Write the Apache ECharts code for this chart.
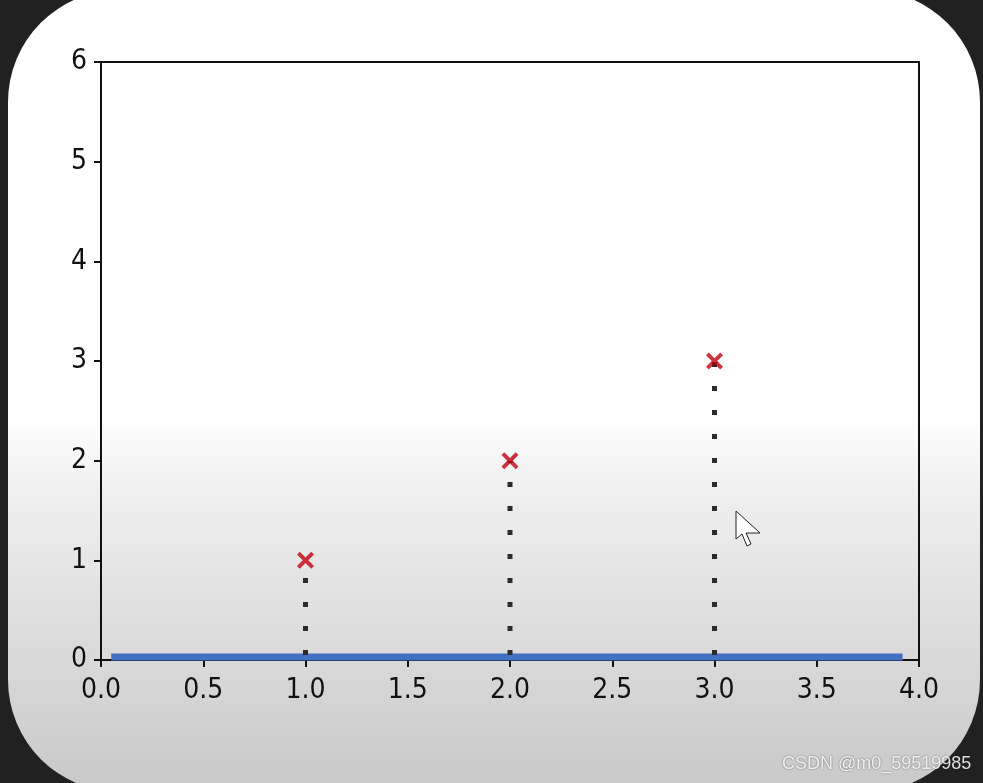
<!DOCTYPE html>
<html><head><meta charset="utf-8">
<script src="https://cdn.jsdelivr.net/npm/echarts@6/dist/echarts.min.js"></script>
<style>html,body{margin:0;padding:0;background:#212121;}#c{width:983px;height:783px;}</style>
</head><body><div id="c"></div>
<script>
var xTicks = ['0.0','0.5','1.0','1.5','2.0','2.5','3.0','3.5','4.0'];
var yTicks = ['0','1','2','3','4','5','6'];
var pointsX = [1, 2, 3];
var pointsY = [1, 2, 3];
var hypX = [0.05, 3.92];
var hypY = [0.03, 0.03];

var FONT = "'Liberation Sans Narrow','DejaVu Sans Condensed','Noto Sans',sans-serif";
var chart = echarts.init(document.getElementById('c'));

var series = [];
series.push({
  type: 'line', data: hypX.map(function(x, i){ return [x, hypY[i]]; }),
  symbol: 'none', lineStyle: {color: '#4270c2', width: 7, cap: 'butt'}, z: 3, silent: true
});
pointsX.forEach(function(x, i){
  series.push({
    type: 'line', data: [[x, 0], [x, pointsY[i]]], symbol: 'none', z: 4, silent: true,
    lineStyle: {color: '#2b2b2b', width: 5, type: [5, 19], dashOffset: 19, cap: 'butt'}
  });
});
series.push({
  type: 'scatter', data: pointsX.map(function(x, i){ return [x, pointsY[i]]; }),
  symbol: 'path://M0,2.6 L2.6,0 L8,5.4 L13.4,0 L16,2.6 L10.6,8 L16,13.4 L13.4,16 L8,10.6 L2.6,16 L0,13.4 L5.4,8 Z',
  symbolSize: 17, itemStyle: {color: '#c2000f'}, z: 6, silent: true
});

chart.setOption({
  backgroundColor: '#212121',
  animation: false,
  graphic: [
    {type: 'rect', z: -10, shape: {x: 8, y: -10, width: 972, height: 802, r: 112},
     style: {fill: {type: 'linear', x: 0, y: 0, x2: 0, y2: 1, colorStops: [
       {offset: 0, color: '#ffffff'}, {offset: 0.53, color: '#ffffff'},
       {offset: 0.62, color: '#f0f0f0'}, {offset: 0.835, color: '#d9d9d9'}, {offset: 1, color: '#c8c8c8'}]}}},
    {type: 'polygon', z: 50, shape: {points: [[736,511],[736,539],[742,534],[747,546],[751,544],[746,533],[760,533]]},
     style: {fill: '#ffffff', stroke: '#222', lineWidth: 1}},
    {type: 'text', z: 50, left: 782, top: 755,
     style: {text: 'CSDN @m0_59519985', font: "18px 'Liberation Sans',Arial,sans-serif", fill: 'rgba(255,255,255,0.85)',
       textShadowColor: 'rgba(0,0,0,0.6)', textShadowBlur: 2}}
  ],
  grid: {left: 101, right: 64, top: 62, bottom: 123, show: true, borderColor: '#111', borderWidth: 2, backgroundColor: 'transparent'},
  xAxis: {
    type: 'value', min: 0, max: 4, interval: 0.5,
    axisLine: {show: true, onZero: false, lineStyle: {color: '#111', width: 2}},
    axisTick: {show: true, length: 7, lineStyle: {color: '#111', width: 2}},
    axisLabel: {margin: 17, color: '#111', fontSize: 28, fontFamily: FONT,
      formatter: function(v){ var i = Math.round(v / 0.5); return xTicks[i]; }},
    splitLine: {show: false}
  },
  yAxis: {
    type: 'value', min: 0, max: 6, interval: 1,
    axisLine: {show: true, onZero: false, lineStyle: {color: '#111', width: 2}},
    axisTick: {show: true, length: 7, lineStyle: {color: '#111', width: 2}},
    axisLabel: {margin: 14, color: '#111', fontSize: 28, fontFamily: FONT,
      formatter: function(v){ return yTicks[Math.round(v)]; }},
    splitLine: {show: false}
  },
  series: series
});
</script></body></html>
